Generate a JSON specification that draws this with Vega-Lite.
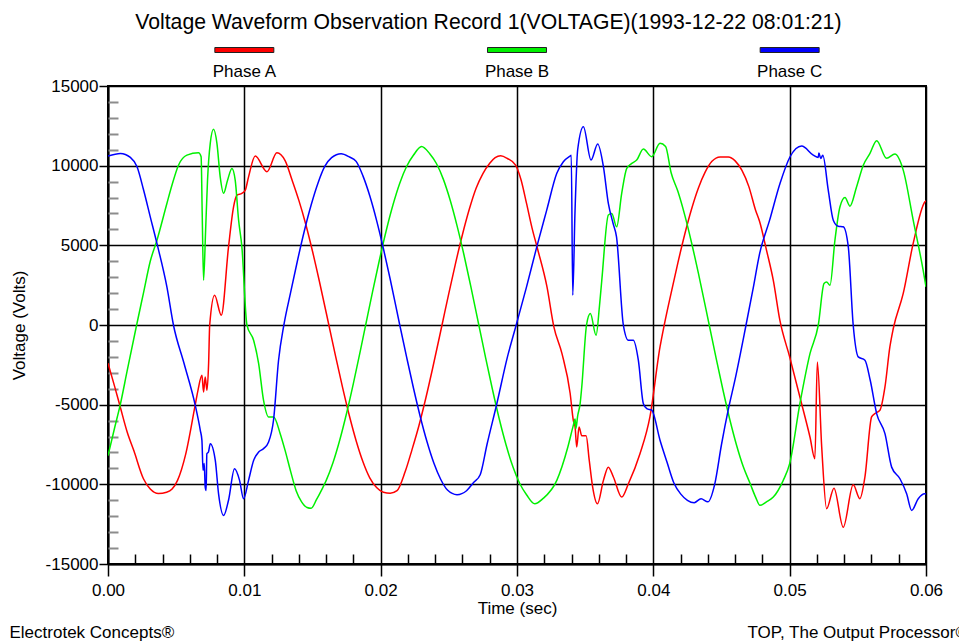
{
  "$schema": "https://vega.github.io/schema/vega-lite/v6.json",
  "background": "white",
  "padding": {"left": 8, "top": 12, "right": 0, "bottom": 0},
  "config": {
    "font": "Liberation Sans",
    "locale": {"number": {"decimal": ".", "thousands": ",", "grouping": [3], "currency": ["$", ""], "minus": "-"}},
    "title": {"fontWeight": "normal", "color": "black"},
    "text": {"color": "black"}
  },
  "title": {
    "text": "Voltage Waveform Observation Record 1(VOLTAGE)(1993-12-22 08:01:21)",
    "fontSize": 21.2,
    "font": "Liberation Sans",
    "fontWeight": "normal",
    "anchor": "middle",
    "offset": 13.5
  },
  "datasets": {
    "phases": [
      {"phase": "Phase A"},
      {"phase": "Phase B"},
      {"phase": "Phase C"}
    ],
    "waves": [
      {"phase": "Phase A", "time": 0.0, "volts": -2400},
      {"phase": "Phase A", "time": 0.0005, "volts": -3900},
      {"phase": "Phase A", "time": 0.0009, "volts": -5150},
      {"phase": "Phase A", "time": 0.0014, "volts": -6700},
      {"phase": "Phase A", "time": 0.0019, "volts": -7900},
      {"phase": "Phase A", "time": 0.0026, "volts": -9650},
      {"phase": "Phase A", "time": 0.0031, "volts": -10300},
      {"phase": "Phase A", "time": 0.0037, "volts": -10580},
      {"phase": "Phase A", "time": 0.0043, "volts": -10500},
      {"phase": "Phase A", "time": 0.0047, "volts": -10300},
      {"phase": "Phase A", "time": 0.0051, "volts": -9750},
      {"phase": "Phase A", "time": 0.0057, "volts": -8100},
      {"phase": "Phase A", "time": 0.0064, "volts": -5000},
      {"phase": "Phase A", "time": 0.0066, "volts": -4100},
      {"phase": "Phase A", "time": 0.00689, "volts": -3160},
      {"phase": "Phase A", "time": 0.00701, "volts": -4200},
      {"phase": "Phase A", "time": 0.00713, "volts": -3260},
      {"phase": "Phase A", "time": 0.00726, "volts": -4100},
      {"phase": "Phase A", "time": 0.00738, "volts": -2420},
      {"phase": "Phase A", "time": 0.00746, "volts": 0},
      {"phase": "Phase A", "time": 0.00782, "volts": 1870},
      {"phase": "Phase A", "time": 0.00831, "volts": 610},
      {"phase": "Phase A", "time": 0.00884, "volts": 4900},
      {"phase": "Phase A", "time": 0.00921, "volts": 7420},
      {"phase": "Phase A", "time": 0.00946, "volts": 8150},
      {"phase": "Phase A", "time": 0.00982, "volts": 8260},
      {"phase": "Phase A", "time": 0.01007, "volts": 8470},
      {"phase": "Phase A", "time": 0.01031, "volts": 9300},
      {"phase": "Phase A", "time": 0.0108, "volts": 10600},
      {"phase": "Phase A", "time": 0.01166, "volts": 9620},
      {"phase": "Phase A", "time": 0.01239, "volts": 10810},
      {"phase": "Phase A", "time": 0.013, "volts": 10300},
      {"phase": "Phase A", "time": 0.0135, "volts": 9100},
      {"phase": "Phase A", "time": 0.014, "volts": 7820},
      {"phase": "Phase A", "time": 0.0145, "volts": 6340},
      {"phase": "Phase A", "time": 0.015, "volts": 4630},
      {"phase": "Phase A", "time": 0.0155, "volts": 2760},
      {"phase": "Phase A", "time": 0.0162, "volts": 0},
      {"phase": "Phase A", "time": 0.0167, "volts": -1990},
      {"phase": "Phase A", "time": 0.0172, "volts": -3900},
      {"phase": "Phase A", "time": 0.0177, "volts": -5680},
      {"phase": "Phase A", "time": 0.0182, "volts": -7260},
      {"phase": "Phase A", "time": 0.0187, "volts": -8580},
      {"phase": "Phase A", "time": 0.0192, "volts": -9590},
      {"phase": "Phase A", "time": 0.0197, "volts": -10200},
      {"phase": "Phase A", "time": 0.0202, "volts": -10500},
      {"phase": "Phase A", "time": 0.0207, "volts": -10560},
      {"phase": "Phase A", "time": 0.0212, "volts": -10400},
      {"phase": "Phase A", "time": 0.0218, "volts": -9200},
      {"phase": "Phase A", "time": 0.0223, "volts": -7820},
      {"phase": "Phase A", "time": 0.0228, "volts": -6340},
      {"phase": "Phase A", "time": 0.0233, "volts": -4630},
      {"phase": "Phase A", "time": 0.0238, "volts": -2760},
      {"phase": "Phase A", "time": 0.0245, "volts": 0},
      {"phase": "Phase A", "time": 0.025, "volts": 1990},
      {"phase": "Phase A", "time": 0.0255, "volts": 3900},
      {"phase": "Phase A", "time": 0.026, "volts": 5680},
      {"phase": "Phase A", "time": 0.0265, "volts": 7260},
      {"phase": "Phase A", "time": 0.027, "volts": 8580},
      {"phase": "Phase A", "time": 0.0275, "volts": 9500},
      {"phase": "Phase A", "time": 0.028, "volts": 10150},
      {"phase": "Phase A", "time": 0.0284, "volts": 10500},
      {"phase": "Phase A", "time": 0.0288, "volts": 10620},
      {"phase": "Phase A", "time": 0.0293, "volts": 10450},
      {"phase": "Phase A", "time": 0.0299, "volts": 10040},
      {"phase": "Phase A", "time": 0.0303, "volts": 9100},
      {"phase": "Phase A", "time": 0.0307, "volts": 7630},
      {"phase": "Phase A", "time": 0.0311, "volts": 6100},
      {"phase": "Phase A", "time": 0.0315, "volts": 4800},
      {"phase": "Phase A", "time": 0.0322, "volts": 2390},
      {"phase": "Phase A", "time": 0.0327, "volts": -100},
      {"phase": "Phase A", "time": 0.0333, "volts": -1800},
      {"phase": "Phase A", "time": 0.0339, "volts": -4300},
      {"phase": "Phase A", "time": 0.03413, "volts": -5980},
      {"phase": "Phase A", "time": 0.03426, "volts": -6400},
      {"phase": "Phase A", "time": 0.03438, "volts": -7660},
      {"phase": "Phase A", "time": 0.03455, "volts": -6400},
      {"phase": "Phase A", "time": 0.03475, "volts": -6950},
      {"phase": "Phase A", "time": 0.03507, "volts": -6950},
      {"phase": "Phase A", "time": 0.0353, "volts": -8500},
      {"phase": "Phase A", "time": 0.03555, "volts": -10170},
      {"phase": "Phase A", "time": 0.0359, "volts": -11220},
      {"phase": "Phase A", "time": 0.03634, "volts": -9750},
      {"phase": "Phase A", "time": 0.0367, "volts": -8920},
      {"phase": "Phase A", "time": 0.03707, "volts": -9540},
      {"phase": "Phase A", "time": 0.03768, "volts": -10800},
      {"phase": "Phase A", "time": 0.03817, "volts": -9960},
      {"phase": "Phase A", "time": 0.03902, "volts": -8080},
      {"phase": "Phase A", "time": 0.03975, "volts": -5770},
      {"phase": "Phase A", "time": 0.04049, "volts": -1380},
      {"phase": "Phase A", "time": 0.0408, "volts": 0},
      {"phase": "Phase A", "time": 0.0413, "volts": 1990},
      {"phase": "Phase A", "time": 0.0418, "volts": 3900},
      {"phase": "Phase A", "time": 0.0423, "volts": 5680},
      {"phase": "Phase A", "time": 0.0428, "volts": 7260},
      {"phase": "Phase A", "time": 0.0433, "volts": 8580},
      {"phase": "Phase A", "time": 0.0438, "volts": 9590},
      {"phase": "Phase A", "time": 0.0443, "volts": 10270},
      {"phase": "Phase A", "time": 0.0449, "volts": 10550},
      {"phase": "Phase A", "time": 0.0455, "volts": 10550},
      {"phase": "Phase A", "time": 0.046, "volts": 10300},
      {"phase": "Phase A", "time": 0.0465, "volts": 9700},
      {"phase": "Phase A", "time": 0.047, "volts": 8700},
      {"phase": "Phase A", "time": 0.0475, "volts": 7200},
      {"phase": "Phase A", "time": 0.0478, "volts": 6480},
      {"phase": "Phase A", "time": 0.0483, "volts": 4700},
      {"phase": "Phase A", "time": 0.0488, "volts": 2800},
      {"phase": "Phase A", "time": 0.04928, "volts": 300},
      {"phase": "Phase A", "time": 0.05, "volts": -2000},
      {"phase": "Phase A", "time": 0.05075, "volts": -4520},
      {"phase": "Phase A", "time": 0.05149, "volts": -7030},
      {"phase": "Phase A", "time": 0.05185, "volts": -8390},
      {"phase": "Phase A", "time": 0.05203, "volts": -2320},
      {"phase": "Phase A", "time": 0.05235, "volts": -7660},
      {"phase": "Phase A", "time": 0.05271, "volts": -11530},
      {"phase": "Phase A", "time": 0.05325, "volts": -10240},
      {"phase": "Phase A", "time": 0.05393, "volts": -12690},
      {"phase": "Phase A", "time": 0.05466, "volts": -10030},
      {"phase": "Phase A", "time": 0.05515, "volts": -10900},
      {"phase": "Phase A", "time": 0.05552, "volts": -9540},
      {"phase": "Phase A", "time": 0.05601, "volts": -5770},
      {"phase": "Phase A", "time": 0.05625, "volts": -5560},
      {"phase": "Phase A", "time": 0.05662, "volts": -5350},
      {"phase": "Phase A", "time": 0.05699, "volts": -3890},
      {"phase": "Phase A", "time": 0.05735, "volts": -1380},
      {"phase": "Phase A", "time": 0.0576, "volts": -220},
      {"phase": "Phase A", "time": 0.05833, "volts": 1980},
      {"phase": "Phase A", "time": 0.05906, "volts": 5120},
      {"phase": "Phase A", "time": 0.05992, "volts": 7730},
      {"phase": "Phase A", "time": 0.06, "volts": 7800},

      {"phase": "Phase B", "time": 0.0, "volts": -8200},
      {"phase": "Phase B", "time": 0.0005, "volts": -6400},
      {"phase": "Phase B", "time": 0.0009, "volts": -5000},
      {"phase": "Phase B", "time": 0.0014, "volts": -2900},
      {"phase": "Phase B", "time": 0.0021, "volts": 0},
      {"phase": "Phase B", "time": 0.0026, "volts": 2000},
      {"phase": "Phase B", "time": 0.0031, "volts": 4000},
      {"phase": "Phase B", "time": 0.00359, "volts": 5320},
      {"phase": "Phase B", "time": 0.00432, "volts": 7630},
      {"phase": "Phase B", "time": 0.0047, "volts": 8800},
      {"phase": "Phase B", "time": 0.00517, "volts": 10030},
      {"phase": "Phase B", "time": 0.00579, "volts": 10660},
      {"phase": "Phase B", "time": 0.00664, "volts": 10810},
      {"phase": "Phase B", "time": 0.00683, "volts": 10560},
      {"phase": "Phase B", "time": 0.00691, "volts": 7000},
      {"phase": "Phase B", "time": 0.00701, "volts": 2810},
      {"phase": "Phase B", "time": 0.00716, "volts": 5950},
      {"phase": "Phase B", "time": 0.0073, "volts": 9090},
      {"phase": "Phase B", "time": 0.0075, "volts": 11400},
      {"phase": "Phase B", "time": 0.00774, "volts": 12280},
      {"phase": "Phase B", "time": 0.00799, "volts": 11400},
      {"phase": "Phase B", "time": 0.00823, "volts": 9300},
      {"phase": "Phase B", "time": 0.00848, "volts": 8270},
      {"phase": "Phase B", "time": 0.00877, "volts": 9090},
      {"phase": "Phase B", "time": 0.00909, "volts": 9830},
      {"phase": "Phase B", "time": 0.00933, "volts": 9090},
      {"phase": "Phase B", "time": 0.00958, "volts": 6580},
      {"phase": "Phase B", "time": 0.00982, "volts": 4900},
      {"phase": "Phase B", "time": 0.01019, "volts": 0},
      {"phase": "Phase B", "time": 0.01068, "volts": -960},
      {"phase": "Phase B", "time": 0.01105, "volts": -2420},
      {"phase": "Phase B", "time": 0.01141, "volts": -4730},
      {"phase": "Phase B", "time": 0.01178, "volts": -5770},
      {"phase": "Phase B", "time": 0.01215, "volts": -5770},
      {"phase": "Phase B", "time": 0.01263, "volts": -6820},
      {"phase": "Phase B", "time": 0.013, "volts": -7900},
      {"phase": "Phase B", "time": 0.0134, "volts": -9200},
      {"phase": "Phase B", "time": 0.0138, "volts": -10400},
      {"phase": "Phase B", "time": 0.0142, "volts": -11100},
      {"phase": "Phase B", "time": 0.0146, "volts": -11450},
      {"phase": "Phase B", "time": 0.0149, "volts": -11500},
      {"phase": "Phase B", "time": 0.0153, "volts": -10950},
      {"phase": "Phase B", "time": 0.0157, "volts": -10300},
      {"phase": "Phase B", "time": 0.016, "volts": -9770},
      {"phase": "Phase B", "time": 0.0165, "volts": -8650},
      {"phase": "Phase B", "time": 0.017, "volts": -7220},
      {"phase": "Phase B", "time": 0.0175, "volts": -5540},
      {"phase": "Phase B", "time": 0.018, "volts": -3660},
      {"phase": "Phase B", "time": 0.0185, "volts": -1650},
      {"phase": "Phase B", "time": 0.0189, "volts": 0},
      {"phase": "Phase B", "time": 0.0194, "volts": 2060},
      {"phase": "Phase B", "time": 0.0199, "volts": 4050},
      {"phase": "Phase B", "time": 0.0204, "volts": 5900},
      {"phase": "Phase B", "time": 0.0209, "volts": 7530},
      {"phase": "Phase B", "time": 0.0214, "volts": 8900},
      {"phase": "Phase B", "time": 0.0219, "volts": 9950},
      {"phase": "Phase B", "time": 0.0224, "volts": 10650},
      {"phase": "Phase B", "time": 0.023, "volts": 11200},
      {"phase": "Phase B", "time": 0.0236, "volts": 10750},
      {"phase": "Phase B", "time": 0.0241, "volts": 10120},
      {"phase": "Phase B", "time": 0.0246, "volts": 9140},
      {"phase": "Phase B", "time": 0.0251, "volts": 7830},
      {"phase": "Phase B", "time": 0.0256, "volts": 6240},
      {"phase": "Phase B", "time": 0.0261, "volts": 4440},
      {"phase": "Phase B", "time": 0.0266, "volts": 2470},
      {"phase": "Phase B", "time": 0.0272, "volts": 0},
      {"phase": "Phase B", "time": 0.0277, "volts": -2060},
      {"phase": "Phase B", "time": 0.0282, "volts": -4050},
      {"phase": "Phase B", "time": 0.0287, "volts": -5900},
      {"phase": "Phase B", "time": 0.0292, "volts": -7530},
      {"phase": "Phase B", "time": 0.0297, "volts": -8900},
      {"phase": "Phase B", "time": 0.0302, "volts": -9950},
      {"phase": "Phase B", "time": 0.0307, "volts": -10650},
      {"phase": "Phase B", "time": 0.0313, "volts": -11220},
      {"phase": "Phase B", "time": 0.0319, "volts": -10900},
      {"phase": "Phase B", "time": 0.03292, "volts": -9750},
      {"phase": "Phase B", "time": 0.03373, "volts": -7660},
      {"phase": "Phase B", "time": 0.03413, "volts": -6300},
      {"phase": "Phase B", "time": 0.03426, "volts": -5900},
      {"phase": "Phase B", "time": 0.03432, "volts": -6500},
      {"phase": "Phase B", "time": 0.03445, "volts": -5700},
      {"phase": "Phase B", "time": 0.03463, "volts": -4940},
      {"phase": "Phase B", "time": 0.03475, "volts": -3890},
      {"phase": "Phase B", "time": 0.0351, "volts": 0},
      {"phase": "Phase B", "time": 0.03538, "volts": 720},
      {"phase": "Phase B", "time": 0.0358, "volts": -650},
      {"phase": "Phase B", "time": 0.03605, "volts": 1200},
      {"phase": "Phase B", "time": 0.03622, "volts": 2810},
      {"phase": "Phase B", "time": 0.0367, "volts": 6900},
      {"phase": "Phase B", "time": 0.03695, "volts": 7000},
      {"phase": "Phase B", "time": 0.03731, "volts": 6160},
      {"phase": "Phase B", "time": 0.03768, "volts": 8260},
      {"phase": "Phase B", "time": 0.03805, "volts": 9830},
      {"phase": "Phase B", "time": 0.03842, "volts": 10140},
      {"phase": "Phase B", "time": 0.03878, "volts": 10350},
      {"phase": "Phase B", "time": 0.03927, "volts": 11040},
      {"phase": "Phase B", "time": 0.03988, "volts": 10560},
      {"phase": "Phase B", "time": 0.04049, "volts": 11400},
      {"phase": "Phase B", "time": 0.0409, "volts": 11200},
      {"phase": "Phase B", "time": 0.0413, "volts": 9570},
      {"phase": "Phase B", "time": 0.0418, "volts": 8390},
      {"phase": "Phase B", "time": 0.0423, "volts": 6910},
      {"phase": "Phase B", "time": 0.0428, "volts": 5180},
      {"phase": "Phase B", "time": 0.0433, "volts": 3270},
      {"phase": "Phase B", "time": 0.0441, "volts": 0},
      {"phase": "Phase B", "time": 0.0446, "volts": -2060},
      {"phase": "Phase B", "time": 0.0451, "volts": -4050},
      {"phase": "Phase B", "time": 0.0456, "volts": -5900},
      {"phase": "Phase B", "time": 0.0461, "volts": -7530},
      {"phase": "Phase B", "time": 0.0466, "volts": -8900},
      {"phase": "Phase B", "time": 0.0471, "volts": -9950},
      {"phase": "Phase B", "time": 0.0475, "volts": -10800},
      {"phase": "Phase B", "time": 0.04782, "volts": -11320},
      {"phase": "Phase B", "time": 0.0483, "volts": -11100},
      {"phase": "Phase B", "time": 0.0488, "volts": -10800},
      {"phase": "Phase B", "time": 0.04953, "volts": -9750},
      {"phase": "Phase B", "time": 0.05, "volts": -8700},
      {"phase": "Phase B", "time": 0.05075, "volts": -4940},
      {"phase": "Phase B", "time": 0.05149, "volts": -1800},
      {"phase": "Phase B", "time": 0.0521, "volts": 0},
      {"phase": "Phase B", "time": 0.05252, "volts": 2600},
      {"phase": "Phase B", "time": 0.05271, "volts": 2700},
      {"phase": "Phase B", "time": 0.05296, "volts": 2500},
      {"phase": "Phase B", "time": 0.05332, "volts": 5320},
      {"phase": "Phase B", "time": 0.05369, "volts": 7420},
      {"phase": "Phase B", "time": 0.05406, "volts": 8000},
      {"phase": "Phase B", "time": 0.05442, "volts": 7460},
      {"phase": "Phase B", "time": 0.05491, "volts": 8680},
      {"phase": "Phase B", "time": 0.0554, "volts": 10030},
      {"phase": "Phase B", "time": 0.05589, "volts": 10770},
      {"phase": "Phase B", "time": 0.05638, "volts": 11570},
      {"phase": "Phase B", "time": 0.05711, "volts": 10460},
      {"phase": "Phase B", "time": 0.05772, "volts": 10730},
      {"phase": "Phase B", "time": 0.05833, "volts": 9720},
      {"phase": "Phase B", "time": 0.05906, "volts": 6580},
      {"phase": "Phase B", "time": 0.05979, "volts": 3440},
      {"phase": "Phase B", "time": 0.06, "volts": 2390},

      {"phase": "Phase C", "time": 0.0, "volts": 10600},
      {"phase": "Phase C", "time": 0.00091, "volts": 10770},
      {"phase": "Phase C", "time": 0.00164, "volts": 10520},
      {"phase": "Phase C", "time": 0.00213, "volts": 9930},
      {"phase": "Phase C", "time": 0.00261, "volts": 8470},
      {"phase": "Phase C", "time": 0.0031, "volts": 6790},
      {"phase": "Phase C", "time": 0.00359, "volts": 5120},
      {"phase": "Phase C", "time": 0.00432, "volts": 2390},
      {"phase": "Phase C", "time": 0.0048, "volts": 0},
      {"phase": "Phase C", "time": 0.00558, "volts": -2420},
      {"phase": "Phase C", "time": 0.0064, "volts": -5040},
      {"phase": "Phase C", "time": 0.00677, "volts": -6610},
      {"phase": "Phase C", "time": 0.00689, "volts": -7240},
      {"phase": "Phase C", "time": 0.00697, "volts": -9120},
      {"phase": "Phase C", "time": 0.00706, "volts": -8700},
      {"phase": "Phase C", "time": 0.00713, "volts": -10170},
      {"phase": "Phase C", "time": 0.0072, "volts": -10380},
      {"phase": "Phase C", "time": 0.00725, "volts": -8080},
      {"phase": "Phase C", "time": 0.00737, "volts": -7970},
      {"phase": "Phase C", "time": 0.0075, "volts": -7450},
      {"phase": "Phase C", "time": 0.00787, "volts": -8500},
      {"phase": "Phase C", "time": 0.00811, "volts": -10600},
      {"phase": "Phase C", "time": 0.00848, "volts": -11950},
      {"phase": "Phase C", "time": 0.00884, "volts": -11000},
      {"phase": "Phase C", "time": 0.00928, "volts": -9020},
      {"phase": "Phase C", "time": 0.00965, "volts": -9750},
      {"phase": "Phase C", "time": 0.00994, "volts": -10900},
      {"phase": "Phase C", "time": 0.01031, "volts": -9750},
      {"phase": "Phase C", "time": 0.01068, "volts": -8500},
      {"phase": "Phase C", "time": 0.01105, "volts": -7970},
      {"phase": "Phase C", "time": 0.01141, "volts": -7760},
      {"phase": "Phase C", "time": 0.01178, "volts": -7340},
      {"phase": "Phase C", "time": 0.01214, "volts": -5980},
      {"phase": "Phase C", "time": 0.01251, "volts": -2210},
      {"phase": "Phase C", "time": 0.0129, "volts": 0},
      {"phase": "Phase C", "time": 0.0134, "volts": 2060},
      {"phase": "Phase C", "time": 0.0139, "volts": 4050},
      {"phase": "Phase C", "time": 0.0144, "volts": 5900},
      {"phase": "Phase C", "time": 0.0149, "volts": 7530},
      {"phase": "Phase C", "time": 0.0154, "volts": 8900},
      {"phase": "Phase C", "time": 0.0159, "volts": 9950},
      {"phase": "Phase C", "time": 0.0164, "volts": 10500},
      {"phase": "Phase C", "time": 0.0171, "volts": 10750},
      {"phase": "Phase C", "time": 0.0177, "volts": 10550},
      {"phase": "Phase C", "time": 0.0182, "volts": 10270},
      {"phase": "Phase C", "time": 0.0187, "volts": 9360},
      {"phase": "Phase C", "time": 0.0192, "volts": 8110},
      {"phase": "Phase C", "time": 0.0197, "volts": 6570},
      {"phase": "Phase C", "time": 0.0202, "volts": 4800},
      {"phase": "Phase C", "time": 0.0207, "volts": 2870},
      {"phase": "Phase C", "time": 0.0214, "volts": 0},
      {"phase": "Phase C", "time": 0.0219, "volts": -2000},
      {"phase": "Phase C", "time": 0.0224, "volts": -3940},
      {"phase": "Phase C", "time": 0.0229, "volts": -5740},
      {"phase": "Phase C", "time": 0.0234, "volts": -7330},
      {"phase": "Phase C", "time": 0.0239, "volts": -8660},
      {"phase": "Phase C", "time": 0.0244, "volts": -9680},
      {"phase": "Phase C", "time": 0.0249, "volts": -10360},
      {"phase": "Phase C", "time": 0.0256, "volts": -10650},
      {"phase": "Phase C", "time": 0.0263, "volts": -10400},
      {"phase": "Phase C", "time": 0.0268, "volts": -9900},
      {"phase": "Phase C", "time": 0.0273, "volts": -9400},
      {"phase": "Phase C", "time": 0.0278, "volts": -7500},
      {"phase": "Phase C", "time": 0.02852, "volts": -4940},
      {"phase": "Phase C", "time": 0.0293, "volts": -2000},
      {"phase": "Phase C", "time": 0.02987, "volts": -220},
      {"phase": "Phase C", "time": 0.0307, "volts": 2390},
      {"phase": "Phase C", "time": 0.03145, "volts": 4900},
      {"phase": "Phase C", "time": 0.03218, "volts": 7210},
      {"phase": "Phase C", "time": 0.03292, "volts": 9520},
      {"phase": "Phase C", "time": 0.0334, "volts": 10250},
      {"phase": "Phase C", "time": 0.03389, "volts": 10600},
      {"phase": "Phase C", "time": 0.03398, "volts": 10650},
      {"phase": "Phase C", "time": 0.03409, "volts": 1870},
      {"phase": "Phase C", "time": 0.03425, "volts": 7000},
      {"phase": "Phase C", "time": 0.03445, "volts": 11000},
      {"phase": "Phase C", "time": 0.03487, "volts": 12450},
      {"phase": "Phase C", "time": 0.03543, "volts": 10350},
      {"phase": "Phase C", "time": 0.03592, "volts": 11360},
      {"phase": "Phase C", "time": 0.03634, "volts": 9930},
      {"phase": "Phase C", "time": 0.0367, "volts": 7630},
      {"phase": "Phase C", "time": 0.03705, "volts": 6370},
      {"phase": "Phase C", "time": 0.0373, "volts": 5530},
      {"phase": "Phase C", "time": 0.0378, "volts": 0},
      {"phase": "Phase C", "time": 0.03817, "volts": -960},
      {"phase": "Phase C", "time": 0.03853, "volts": -960},
      {"phase": "Phase C", "time": 0.0389, "volts": -2210},
      {"phase": "Phase C", "time": 0.03927, "volts": -4940},
      {"phase": "Phase C", "time": 0.03952, "volts": -5250},
      {"phase": "Phase C", "time": 0.03988, "volts": -5350},
      {"phase": "Phase C", "time": 0.04049, "volts": -7230},
      {"phase": "Phase C", "time": 0.041, "volts": -8600},
      {"phase": "Phase C", "time": 0.0415, "volts": -9900},
      {"phase": "Phase C", "time": 0.042, "volts": -10600},
      {"phase": "Phase C", "time": 0.0425, "volts": -11000},
      {"phase": "Phase C", "time": 0.043, "volts": -11150},
      {"phase": "Phase C", "time": 0.0435, "volts": -10900},
      {"phase": "Phase C", "time": 0.044, "volts": -11100},
      {"phase": "Phase C", "time": 0.0445, "volts": -10000},
      {"phase": "Phase C", "time": 0.045, "volts": -7500},
      {"phase": "Phase C", "time": 0.0455, "volts": -5300},
      {"phase": "Phase C", "time": 0.046, "volts": -3400},
      {"phase": "Phase C", "time": 0.0468, "volts": 0},
      {"phase": "Phase C", "time": 0.0473, "volts": 2200},
      {"phase": "Phase C", "time": 0.0478, "volts": 4490},
      {"phase": "Phase C", "time": 0.04853, "volts": 6580},
      {"phase": "Phase C", "time": 0.04929, "volts": 8880},
      {"phase": "Phase C", "time": 0.05003, "volts": 10560},
      {"phase": "Phase C", "time": 0.05088, "volts": 11230},
      {"phase": "Phase C", "time": 0.05173, "volts": 10660},
      {"phase": "Phase C", "time": 0.0521, "volts": 10510},
      {"phase": "Phase C", "time": 0.05214, "volts": 10800},
      {"phase": "Phase C", "time": 0.05228, "volts": 10450},
      {"phase": "Phase C", "time": 0.05243, "volts": 10650},
      {"phase": "Phase C", "time": 0.05283, "volts": 8470},
      {"phase": "Phase C", "time": 0.0532, "volts": 6580},
      {"phase": "Phase C", "time": 0.05356, "volts": 6200},
      {"phase": "Phase C", "time": 0.05393, "volts": 6160},
      {"phase": "Phase C", "time": 0.0543, "volts": 4900},
      {"phase": "Phase C", "time": 0.05466, "volts": 0},
      {"phase": "Phase C", "time": 0.05503, "volts": -2000},
      {"phase": "Phase C", "time": 0.05552, "volts": -2210},
      {"phase": "Phase C", "time": 0.05591, "volts": -3470},
      {"phase": "Phase C", "time": 0.05638, "volts": -5560},
      {"phase": "Phase C", "time": 0.05699, "volts": -6820},
      {"phase": "Phase C", "time": 0.05748, "volts": -8920},
      {"phase": "Phase C", "time": 0.05809, "volts": -9650},
      {"phase": "Phase C", "time": 0.05858, "volts": -10590},
      {"phase": "Phase C", "time": 0.05895, "volts": -11640},
      {"phase": "Phase C", "time": 0.05943, "volts": -10900},
      {"phase": "Phase C", "time": 0.0599, "volts": -10590},
      {"phase": "Phase C", "time": 0.06, "volts": -10600}
    ]
  },
  "vconcat": [
    {
      "spacing": 10,
      "vconcat": [
        {
          "width": 818,
          "height": 6,
          "view": {"stroke": null},
          "data": {"name": "phases"},
          "mark": {"type": "tick", "orient": "horizontal", "size": 59, "thickness": 5, "stroke": "#222222", "strokeWidth": 1, "opacity": 1},
          "encoding": {
            "x": {"field": "phase", "type": "nominal", "axis": null, "scale": {"type": "band", "paddingInner": 0, "paddingOuter": 0}},
            "color": {"field": "phase", "type": "nominal", "legend": null,
              "scale": {"domain": ["Phase A", "Phase B", "Phase C"], "range": ["#ff0000", "#00f000", "#0000ff"]}}
          }
        },
        {
          "width": 818,
          "height": 18,
          "view": {"stroke": null},
          "data": {"name": "phases"},
          "mark": {"type": "text", "fontSize": 17, "font": "Liberation Sans", "baseline": "middle", "color": "black"},
          "encoding": {
            "x": {"field": "phase", "type": "nominal", "axis": null, "scale": {"type": "band", "paddingInner": 0, "paddingOuter": 0}},
            "text": {"field": "phase"}
          }
        }
      ]
    },
    {
      "width": 818,
      "height": 478,
      "view": {"stroke": "black", "strokeWidth": 2},
      "data": {"name": "waves"},
      "layer": [
        {
          "mark": {"type": "line", "interpolate": "monotone", "strokeWidth": 1.5, "clip": true},
          "encoding": {
            "x": {
              "field": "time", "type": "quantitative",
              "scale": {"domain": [0, 0.06], "nice": false, "zero": false},
              "axis": {
                "orient": "bottom",
                "values": [0, 0.01, 0.02, 0.03, 0.04, 0.05, 0.06],
                "format": ".2f", "labelFlush": false,
                "title": "Time (sec)",
                "labelFontSize": 17, "labelColor": "black", "labelPadding": 6,
                "titleFontSize": 17, "titleFontWeight": "normal", "titleColor": "black", "titlePadding": 2,
                "tickSize": 12, "tickColor": "black", "tickWidth": 1.5,
                "domainColor": "black", "domainWidth": 2,
                "grid": true, "gridColor": "black", "gridWidth": 1.5, "gridOpacity": 1
              }
            },
            "y": {
              "field": "volts", "type": "quantitative",
              "scale": {"domain": [-15000, 15000], "nice": false, "zero": false},
              "axis": {
                "orient": "left",
                "values": [-15000, -10000, -5000, 0, 5000, 10000, 15000],
                "format": "d", "labelFlush": false,
                "title": "Voltage (Volts)",
                "labelFontSize": 17, "labelColor": "black", "labelPadding": 1,
                "titleFontSize": 17, "titleFontWeight": "normal", "titleColor": "black", "titlePadding": 17,
                "tickSize": 9, "tickColor": "black", "tickWidth": 1.5,
                "domainColor": "black", "domainWidth": 2,
                "grid": true, "gridColor": "black", "gridWidth": 1.5, "gridOpacity": 1
              }
            },
            "color": {
              "field": "phase", "type": "nominal", "legend": null,
              "scale": {"domain": ["Phase A", "Phase B", "Phase C"], "range": ["#ff0000", "#00f000", "#0000ff"]}
            }
          }
        },
        {
          "mark": {"type": "point", "opacity": 0},
          "encoding": {
            "x": {
              "field": "time", "type": "quantitative",
              "axis": {
                "orient": "bottom",
                "values": [0.002, 0.004, 0.006, 0.008, 0.012, 0.014, 0.016, 0.018, 0.022, 0.024, 0.026, 0.028, 0.032, 0.034, 0.036, 0.038, 0.042, 0.044, 0.046, 0.048, 0.052, 0.054, 0.056, 0.058],
                "labels": false, "domain": false, "grid": false,
                "tickSize": -10, "tickColor": "black", "tickWidth": 1.5,
                "title": "TOP, The Output Processor\u00a9",
                "titleFontSize": 17, "titleFontWeight": "normal", "titleColor": "black",
                "titleAlign": "left", "titleBaseline": "middle", "titleX": 639, "titleY": 68
              }
            },
            "y": {
              "field": "volts", "type": "quantitative",
              "axis": {
                "orient": "left",
                "values": [-14000, -13000, -12000, -11000, -9000, -8000, -7000, -6000, -4000, -3000, -2000, -1000, 1000, 2000, 3000, 4000, 6000, 7000, 8000, 9000, 11000, 12000, 13000, 14000],
                "labels": false, "domain": false, "grid": false,
                "tickSize": -10, "tickColor": "#8c8c8c", "tickWidth": 2,
                "title": "Electrotek Concepts\u00ae",
                "titleAngle": 0,
                "titleFontSize": 17, "titleFontWeight": "normal", "titleColor": "black",
                "titleAlign": "left", "titleBaseline": "middle", "titleX": -99, "titleY": 546
              }
            }
          }
        }
      ],
      "resolve": {"axis": {"x": "independent", "y": "independent"}}
    }
  ],
  "spacing": -5
}
